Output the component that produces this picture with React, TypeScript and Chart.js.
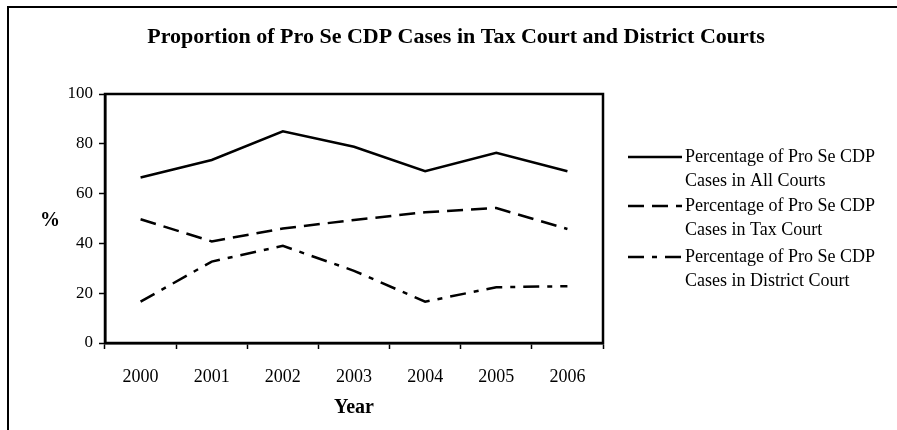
import React, { useEffect, useRef } from "react";
import { Chart, registerables } from "chart.js";

Chart.register(...registerables);

const years = ["2000", "2001", "2002", "2003", "2004", "2005", "2006"];
const allCourts = [66.5, 73.5, 85, 78.8, 69, 76.4, 69];
const taxCourt = [49.7, 40.8, 46, 49.4, 52.5, 54.2, 45.8];
const districtCourt = [16.6, 32.7, 39, 29, 16.6, 22.4, 22.8];
const seriesLabels = [
  ["Percentage of Pro Se CDP", "Cases in All Courts"],
  ["Percentage of Pro Se CDP", "Cases in Tax Court"],
  ["Percentage of Pro Se CDP", "Cases in District Court"],
];
const titleText = "Proportion of Pro Se CDP Cases in Tax Court and District Courts";
const yTitle = "%";
const xTitle = "Year";

const SERIF = "'Liberation Serif', 'Times New Roman', serif";

const decorPlugin = {
  id: "decor",
  afterDraw(chart: any) {
    const ctx = chart.ctx as CanvasRenderingContext2D;
    const ca = chart.chartArea;
    ctx.save();
    // outer frame (left and top)
    ctx.strokeStyle = "#000";
    ctx.lineWidth = 2;
    ctx.setLineDash([]);
    ctx.beginPath();
    ctx.moveTo(8, 430);
    ctx.lineTo(8, 7);
    ctx.lineTo(897, 7);
    ctx.stroke();
    // plot area frame
    ctx.lineWidth = 2.5;
    ctx.strokeRect(ca.left, ca.top, ca.right - ca.left, ca.bottom - ca.top);

    ctx.fillStyle = "#000";
    // title
    ctx.font = `bold 22px ${SERIF}`;
    ctx.textAlign = "center";
    ctx.textBaseline = "middle";
    ctx.fillText(titleText, 456, 37);
    // axis titles
    ctx.font = `bold 20px ${SERIF}`;
    ctx.fillText(yTitle, 50, 221);
    ctx.fillText(xTitle, (ca.left + ca.right) / 2, 408);

    // legend
    const datasets = chart.data.datasets;
    const ys = [157, 206, 257];
    ctx.font = `18px ${SERIF}`;
    ctx.textAlign = "left";
    datasets.forEach((ds: any, i: number) => {
      const y = ys[i];
      ctx.strokeStyle = ds.borderColor;
      ctx.lineWidth = ds.borderWidth;
      ctx.setLineDash(ds.borderDash || []);
      ctx.beginPath();
      ctx.moveTo(628, y);
      ctx.lineTo(682, y);
      ctx.stroke();
      ctx.setLineDash([]);
      const lines = seriesLabels[i];
      lines.forEach((t, j) => {
        ctx.fillText(t, 685, y + j * 24);
      });
    });
    ctx.restore();
  },
};

export default function App() {
  const ref = useRef<HTMLCanvasElement | null>(null);
  useEffect(() => {
    if (!ref.current) return;
    const chart = new Chart(ref.current, {
      type: "line",
      data: {
        labels: years,
        datasets: [
          {
            label: seriesLabels[0].join(" "),
            data: allCourts,
            borderColor: "#000",
            borderWidth: 2.5,
            borderDash: [],
            pointRadius: 0,
            tension: 0,
          },
          {
            label: seriesLabels[1].join(" "),
            data: taxCourt,
            borderColor: "#000",
            borderWidth: 2.5,
            borderDash: [16, 8],
            pointRadius: 0,
            tension: 0,
          },
          {
            label: seriesLabels[2].join(" "),
            data: districtCourt,
            borderColor: "#000",
            borderWidth: 2.5,
            borderDash: [16, 8, 5, 8],
            pointRadius: 0,
            tension: 0,
          },
        ],
      },
      options: {
        responsive: false,
        animation: false,
        layout: { padding: { left: 0, top: 94, right: 294, bottom: 0 } },
        plugins: {
          legend: { display: false },
          title: { display: false },
          tooltip: { enabled: false },
        },
        scales: {
          x: {
            type: "category",
            offset: true,
            afterFit: (s: any) => {
              s.height = 87;
            },
            grid: {
              offset: true,
              drawOnChartArea: false,
              drawTicks: true,
              tickLength: 6,
              tickColor: "#000",
              tickWidth: 1.5,
            },
            border: { display: true, color: "#000", width: 2.5 },
            ticks: {
              color: "#000",
              font: { family: SERIF, size: 18 },
              padding: 17,
              maxRotation: 0,
            },
          },
          y: {
            min: 0,
            max: 100,
            afterFit: (s: any) => {
              s.width = 105;
            },
            grid: {
              drawOnChartArea: false,
              drawTicks: true,
              tickLength: 6,
              tickColor: "#000",
              tickWidth: 1.5,
            },
            border: { display: true, color: "#000", width: 2.5 },
            ticks: {
              stepSize: 20,
              color: "#000",
              font: { family: SERIF, size: 17 },
              padding: 6,
            },
          },
        },
      },
      plugins: [decorPlugin],
    });
    return () => chart.destroy();
  }, []);
  return (
    <div style={{ position: "fixed", left: 0, top: 0, width: 897, height: 430, background: "#fff" }}>
      <canvas ref={ref} width={897} height={430} />
    </div>
  );
}
